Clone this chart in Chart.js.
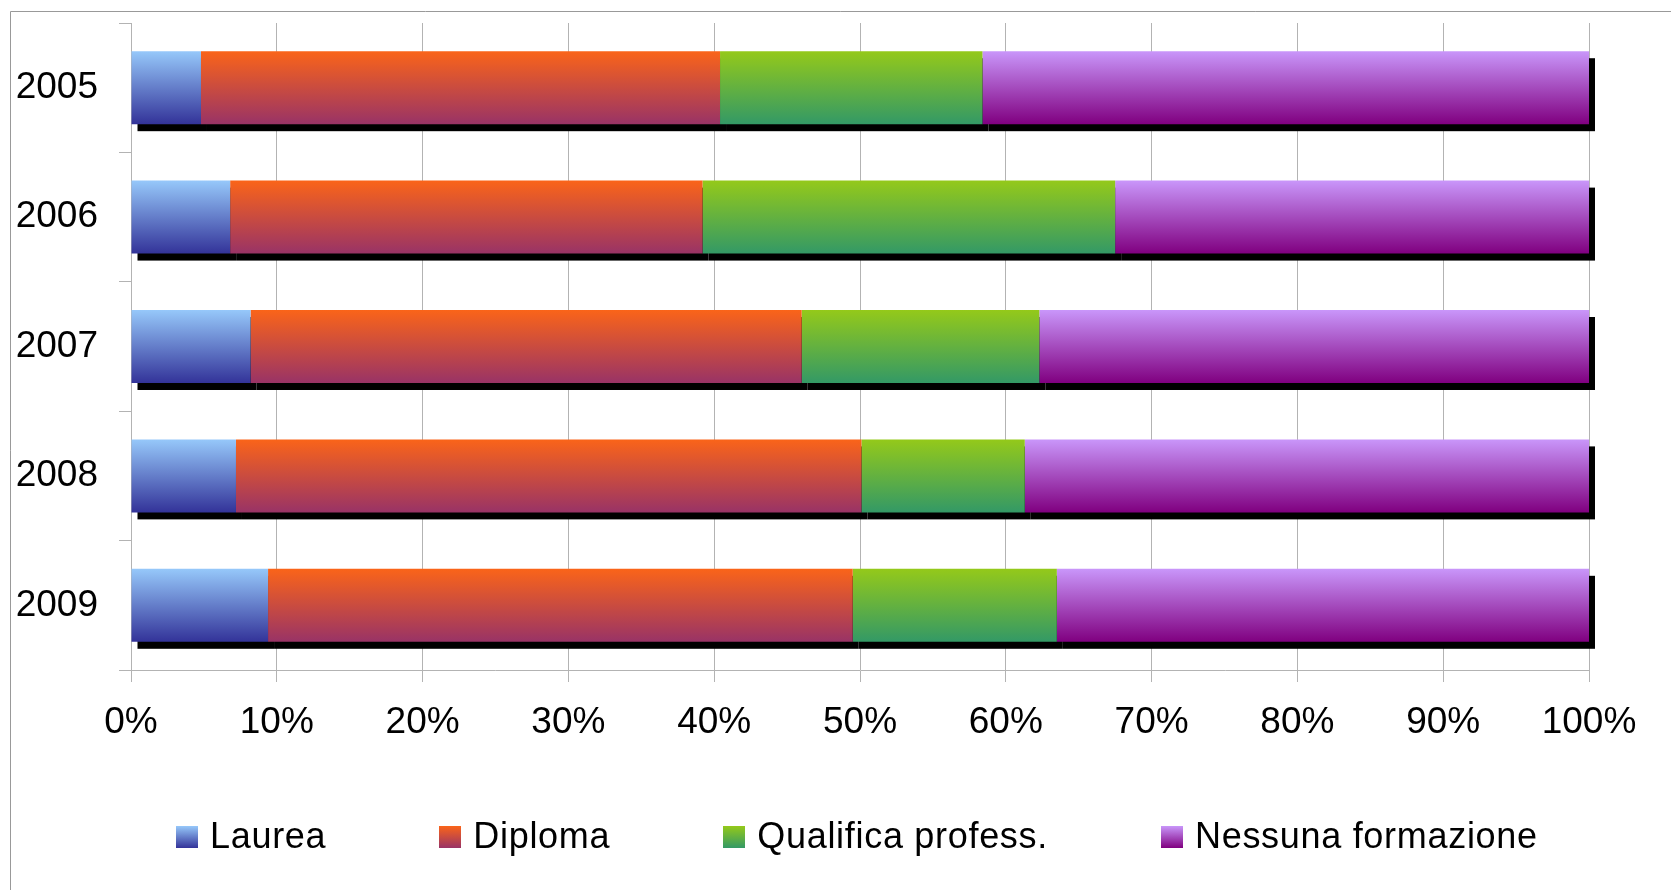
<!DOCTYPE html>
<html>
<head>
<meta charset="utf-8">
<title>Formazione 2005-2009</title>
<script src="https://cdn.jsdelivr.net/npm/chart.js@4/dist/chart.umd.min.js"></script>
<style>
    html, body { margin: 0; padding: 0; background: #fff; }
    #wrap { position: relative; width: 1671px; height: 890px; overflow: hidden; }
    #legend {
        position: absolute; left: 176px; top: 818px;
        display: flex; gap: 113px;
        font-family: "Liberation Sans", Arial, sans-serif;
        font-size: 36px; line-height: 36px; letter-spacing: 0.7px;
        color: #000; white-space: nowrap;
    }
    #legend .item { display: flex; align-items: flex-start; }
    #legend .box { width: 22px; height: 22px; margin-top: 8px; margin-right: 12px; }
</style>
</head>
<body>
<div id="wrap">
    <canvas id="myChart"></canvas>
    <div id="legend"></div>
</div>
<script>
// categories and series (percent of each year)
const years = ['2005', '2006', '2007', '2008', '2009'];
const seriesNames = ['Laurea', 'Diploma', 'Qualifica profess.', 'Nessuna formazione'];
const laurea = [4.8, 6.8, 8.2, 7.2, 9.4];
const diploma = [35.6, 32.4, 37.8, 42.9, 40.1];
const qualifica = [18.0, 28.3, 16.3, 11.2, 14.0];
const nessuna = [41.6, 32.5, 37.7, 38.7, 36.5];
const xTickLabels = ['0%', '10%', '20%', '30%', '40%', '50%', '60%', '70%', '80%', '90%', '100%'];

// gradient colours, top -> bottom
const topColors = ['#96c8fa', '#fa6419', '#94c91a', '#c996fa'];
const bottomColors = ['#333399', '#993366', '#339966', '#800080'];

const FONT = '"Liberation Sans", Arial, sans-serif';
const BAR_PCT = 0.564;

function barGradient(i) {
    return function (ctx) {
        if (ctx.type !== 'data') return topColors[i];
        var chart = ctx.chart;
        var yScale = chart.scales.y;
        if (!yScale) return topColors[i];
        var center = yScale.getPixelForValue(ctx.dataIndex);
        var half = (yScale.height / years.length) * BAR_PCT / 2;
        // scales are not laid out yet on the first pass
        if (!isFinite(center) || !isFinite(half) || half <= 0) return topColors[i];
        var g = chart.ctx.createLinearGradient(0, center - half, 0, center + half);
        g.addColorStop(0, topColors[i]);
        g.addColorStop(1, bottomColors[i]);
        return g;
    };
}

/* black drop shadow under each bar segment */
const shadowPlugin = {
    id: 'barShadow',
    beforeDatasetsDraw(chart) {
        const ctx = chart.ctx;
        ctx.save();
        ctx.fillStyle = '#000';
        chart.data.datasets.forEach(function (ds, i) {
            chart.getDatasetMeta(i).data.forEach(function (bar) {
                const p = bar.getProps(['x', 'y', 'base', 'height'], true);
                const left = Math.min(p.x, p.base);
                ctx.fillRect(left + 6, p.y - p.height / 2 + 7, Math.abs(p.x - p.base), p.height);
            });
        });
        ctx.restore();
    }
};

/* outer frame (cut off at right and bottom) */
const framePlugin = {
    id: 'frame',
    beforeDraw(chart) {
        const ctx = chart.ctx;
        ctx.save();
        ctx.strokeStyle = '#999999';
        ctx.lineWidth = 1;
        ctx.beginPath();
        ctx.moveTo(10.5, chart.height);
        ctx.lineTo(10.5, 11.5);
        ctx.lineTo(chart.width, 11.5);
        ctx.stroke();
        ctx.restore();
    }
};

const values = [laurea, diploma, qualifica, nessuna];

var ctx = document.getElementById('myChart').getContext('2d');
var chart = new Chart(ctx, {
    type: 'bar',
    data: {
        labels: years,
        datasets: seriesNames.map(function (name, i) {
            return {
                label: name,
                data: values[i],
                backgroundColor: barGradient(i),
                borderWidth: 0,
                barPercentage: BAR_PCT,
                categoryPercentage: 1
            };
        })
    },
    options: {
        indexAxis: 'y',
        responsive: true,
        maintainAspectRatio: false,
        animation: false,
        layout: { padding: { top: 23, right: 82, bottom: 140, left: 0 } },
        plugins: {
            legend: { display: false },
            tooltip: { enabled: false }
        },
        scales: {
            x: {
                stacked: true,
                min: 0,
                max: 100,
                ticks: {
                    stepSize: 10,
                    autoSkip: false,
                    maxRotation: 0,
                    padding: 19,
                    color: '#000',
                    font: { family: FONT, size: 37 },
                    callback: function (v, i) { return xTickLabels[i]; }
                },
                grid: { color: '#b3b3b3', tickLength: 12 },
                border: { color: '#b3b3b3' },
                afterFit: function (s) { s.height = 80; }
            },
            y: {
                stacked: true,
                offset: true,
                ticks: {
                    padding: 21,
                    color: '#000',
                    font: { family: FONT, size: 37 }
                },
                grid: { offset: true, drawOnChartArea: false, tickLength: 12, color: '#b3b3b3' },
                border: { color: '#b3b3b3' },
                afterFit: function (s) {
                    s.width = 131;
                    s.paddingTop = 0;
                    s.paddingBottom = 0;
                }
            }
        }
    },
    plugins: [framePlugin, shadowPlugin]
});

/* legend */
var legend = document.getElementById('legend');
seriesNames.forEach(function (name, i) {
    var item = document.createElement('div');
    item.className = 'item';
    var box = document.createElement('span');
    box.className = 'box';
    box.style.background = 'linear-gradient(to bottom, ' + topColors[i] + ', ' + bottomColors[i] + ')';
    var txt = document.createElement('span');
    txt.textContent = name;
    item.appendChild(box);
    item.appendChild(txt);
    legend.appendChild(item);
});
</script>
</body>
</html>
